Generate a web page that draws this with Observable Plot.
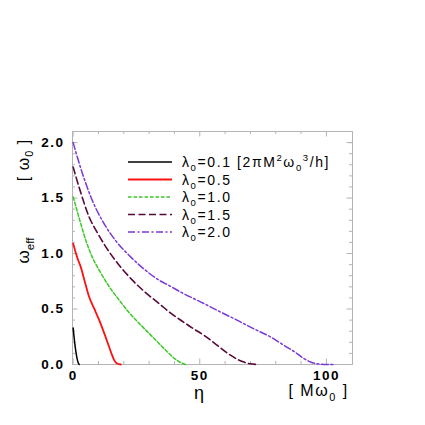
<!DOCTYPE html>
<html><head><meta charset="utf-8">
<script src="https://cdn.jsdelivr.net/npm/d3@7"></script>
<script src="https://cdn.jsdelivr.net/npm/@observablehq/plot@0.6"></script>
<style>
body{margin:0;background:#fff;}
#chart{position:relative;width:425px;height:425px;}
svg text{font-family:"Liberation Sans",Arial,sans-serif;}
g[aria-label="x-axis tick label"] text, g[aria-label="y-axis tick label"] text{letter-spacing:1.5px;}
</style></head><body><div id="chart"></div>
<script>
// curve data: eta [M omega_0], omega_eff [omega_0]
const eta01=[0,0.5,1.0,1.5,2.0,2.4];
const w01=[0.33,0.22,0.13,0.06,0.015,0];
const eta05=[0,1,2,3,4.5,6.3,8.3,10.3,12.3,14.2,15.2,16.2,17.2,18.8];
const w05=[1.09,1.01,0.94,0.88,0.755,0.61,0.505,0.40,0.28,0.16,0.095,0.04,0.012,0];
const eta10=[0,1,2.5,5,7.5,10.3,14,18.2,22,26.1,30,33.9,36.5,39.2,41.5,44.4];
const w10=[1.51,1.43,1.31,1.12,0.97,0.85,0.71,0.58,0.47,0.37,0.28,0.19,0.13,0.07,0.03,0];
const eta15=[0,1,3,6.3,9.5,12.9,18,23.4,28.5,33.9,38.4,43.1,47,51.6,56.5,62.1,65,67.4,70,72.6];
const w15=[1.78,1.70,1.55,1.33,1.19,1.06,0.90,0.76,0.65,0.55,0.465,0.39,0.33,0.264,0.18,0.084,0.045,0.023,0.006,0];
const eta20=[0,1,3.7,7,12.2,17,22.7,28,33.9,38.4,43.1,51.6,58,64.7,71,77.9,83,88.4,91,93.7,96,98.9,102.9];
const w20=[2.0,1.92,1.72,1.51,1.27,1.11,0.97,0.86,0.76,0.705,0.645,0.55,0.475,0.40,0.325,0.249,0.176,0.099,0.055,0.023,0.008,0.001,0];

const lambdaLabels=["0.1","0.5","1.0","1.5","2.0"];
const xTickLabels=[0,50,100];
const yTickLabels=[0,0.5,1.0,1.5,2.0];
const xMinor=[10,20,30,40,60,70,80,90];
const yMinor=[0.1,0.2,0.3,0.4,0.6,0.7,0.8,0.9,1.1,1.2,1.3,1.4,1.6,1.7,1.8,1.9,2.0];

const colors=["#000000","#ff1010","#3cc828","#5a0838","#7a38d8"];
const dashes=[null,null,"3.5,2","7,3.5","7,2.5,2,2.5"];
const widths=[1.5,1.8,1.5,1.6,1.5];

const series=[[eta01,w01],[eta05,w05],[eta10,w10],[eta15,w15],[eta20,w20]]
  .map(([e,w],i)=>e.map((v,j)=>({eta:v,w:w[j],s:i})));

const W=425,H=425,mL=72,mR=73,mT=131,mB=61;
const innerH=H-mT-mB, innerW=W-mL-mR;
const tickColor="#b4b4b4";
const minorLen=3, majorLen=5.5;

const marks=[
  Plot.frame({stroke:tickColor}),
  Plot.tickX(xMinor,{x:d=>d,insetTop:innerH-minorLen,stroke:tickColor}),
  Plot.tickX(xMinor,{x:d=>d,insetBottom:innerH-minorLen,stroke:tickColor}),
  Plot.tickX(xTickLabels,{x:d=>d,insetTop:innerH-majorLen,stroke:tickColor}),
  Plot.tickX(xTickLabels,{x:d=>d,insetBottom:innerH-majorLen,stroke:tickColor}),
  Plot.tickY(yMinor,{y:d=>d,insetRight:innerW-minorLen,stroke:tickColor}),
  Plot.tickY(yMinor,{y:d=>d,insetLeft:innerW-minorLen,stroke:tickColor}),
  Plot.tickY(yTickLabels,{y:d=>d,insetRight:innerW-majorLen,stroke:tickColor}),
  Plot.tickY(yTickLabels,{y:d=>d,insetLeft:innerW-majorLen,stroke:tickColor}),
  Plot.axisX(xTickLabels,{tickSize:0,tickPadding:6,fontWeight:"bold",fontSize:13.5,label:null,tickFormat:d=>String(d)}),
  Plot.axisY(yTickLabels,{tickSize:0,tickPadding:8,fontWeight:"bold",fontSize:13.5,label:null,tickFormat:d=>d.toFixed(1)}),
  ...series.map((data,i)=>Plot.line(data,{x:"eta",y:"w",stroke:colors[i],strokeWidth:widths[i],strokeDasharray:dashes[i],curve:"monotone-x"}))
];

const svgEl=Plot.plot({
  width:W,height:H,marginLeft:mL,marginRight:mR,marginTop:mT,marginBottom:mB,
  x:{domain:[-0.25,110.3],axis:null},
  y:{domain:[0,2.1],axis:null},
  style:{fontFamily:"Liberation Sans, Arial, sans-serif",background:"#fff",color:"#000"},
  marks
});
document.getElementById("chart").appendChild(svgEl);
const svg=d3.select(svgEl);

function rich(g,segs,size,opts={}){
  const t=g.append("text").attr("font-size",size).attr("fill","#000")
    .attr("letter-spacing",opts.ls||0).attr("text-anchor",opts.anchor||"start");
  let off=0;
  segs.forEach(([txt,k])=>{
    let target=k==="sub"?size*0.3:k==="sup"?-size*0.42:0;
    t.append("tspan").text(txt).attr("dy",target-off)
      .attr("font-size",k==="n"?size:size*0.68);
    off=target;
  });
  return t;
}

const gl=svg.append("g");
rich(gl.append("g").attr("transform","translate(28.5,250.5) rotate(-90)"),[["ω","n"],["eff","sub"]],17,{anchor:"middle"});
rich(gl.append("g").attr("transform","translate(28.5,160) rotate(-90)"),[["[ ω","n"],["0","sub"],[" ]","n"]],16,{anchor:"middle",ls:1});
rich(gl.append("g").attr("transform","translate(199,399)"),[["η","n"]],18,{anchor:"middle"});
rich(gl.append("g").attr("transform","translate(318.5,396)"),[["[ Mω","n"],["0","sub"],[" ]","n"]],16,{anchor:"middle",ls:1.5});

const lg=svg.append("g");
lambdaLabels.forEach((lab,i)=>{
  const y=162+i*17.5;
  lg.append("line").attr("x1",128).attr("x2",172).attr("y1",y).attr("y2",y)
    .attr("stroke",colors[i]).attr("stroke-width",widths[i])
    .attr("stroke-dasharray",dashes[i]||null);
  const segs=[["λ","n"],["0","sub"],["="+lab,"n"]];
  if(i===0) segs.push([" [2πM","n"],["2","sup"],["ω","n"],["0","sub"],["3","sup"],["/h]","n"]);
  rich(lg.append("g").attr("transform",`translate(182,${y+5})`),segs,14,{ls:1.6});
});
</script></body></html>
